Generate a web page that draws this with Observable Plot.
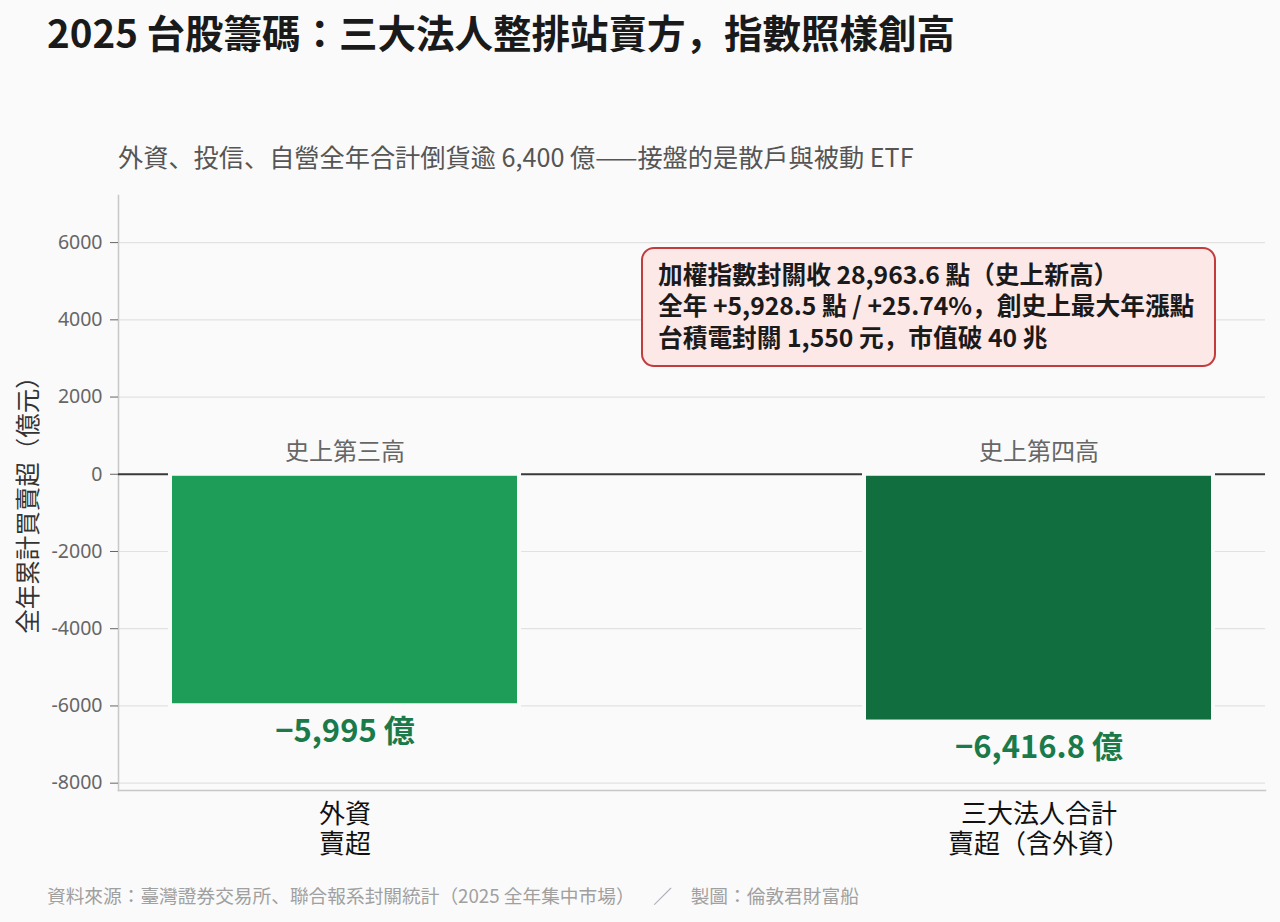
<!DOCTYPE html>
<html><head><meta charset="utf-8">
<script src="https://cdn.jsdelivr.net/npm/d3@7"></script>
<script src="https://cdn.jsdelivr.net/npm/@observablehq/plot@0.6"></script>
<style>
html,body{margin:0;padding:0;background:#fafafa;}
body{width:1280px;height:922px;position:relative;overflow:hidden;font-family:"Noto Sans CJK JP","Noto Sans",sans-serif;text-spacing-trim:space-all;font-kerning:none;font-feature-settings:"kern" 0,"chws" 0,"halt" 0,"palt" 0;}
svg, svg text{text-spacing-trim:space-all;font-kerning:none;font-feature-settings:"kern" 0,"chws" 0,"halt" 0,"palt" 0;}
#title{position:absolute;left:47px;top:12px;font-size:38.5px;line-height:38.5px;font-weight:700;color:#1a1a1a;white-space:nowrap;}
#subtitle{position:absolute;left:118px;top:144px;font-size:25.2px;line-height:25.2px;color:#555;white-space:nowrap;}
#chart{position:absolute;left:0;top:180px;}
#ylabel{position:absolute;left:27px;top:499px;transform:translate(-50%,-50%) rotate(-90deg);font-size:24.5px;line-height:24.5px;color:#333;white-space:nowrap;}
#note{position:absolute;left:641px;top:247px;width:575px;height:120px;box-sizing:border-box;border:2px solid #c23c3e;border-radius:13px;background:#fde8e8;padding:8.5px 0 0 15px;}
#note div{font-size:24.7px;line-height:31.5px;font-weight:700;color:#1a1a1a;white-space:nowrap;}
#footer{position:absolute;left:47px;top:886px;font-size:18.7px;line-height:18.7px;color:#a0a0a0;white-space:nowrap;}
</style></head>
<body>
<div id="title"></div>
<div id="subtitle"></div>
<div id="chart"></div>
<div id="ylabel"></div>
<div id="note"></div>
<div id="footer"></div>
<script>
const titleText = "2025 台股籌碼：三大法人整排站賣方，指數照樣創高";
const subtitleText = "外資、投信、自營全年合計倒貨逾 6,400 億——接盤的是散戶與被動 ETF";
const footerText = "資料來源：臺灣證券交易所、聯合報系封關統計（2025 全年集中市場）　／　製圖：倫敦君財富船";
const yLabel = "全年累計買賣超（億元）";

const categories = ["外資\n賣超", "三大法人合計\n賣超（含外資）"];
const values = [-5995, -6416.8];
const valueLabels = ["−5,995 億", "−6,416.8 億"];
const rankLabels = ["史上第三高", "史上第四高"];
const barColors = ["#1e9d58", "#106e3f"];
const yTicks = [-8000, -6000, -4000, -2000, 0, 2000, 4000, 6000];
const yDomain = [-8190, 7220];
const noteLines = [
  "加權指數封關收 28,963.6 點（史上新高）",
  "全年 +5,928.5 點 / +25.74%，創史上最大年漲點",
  "台積電封關 1,550 元，市值破 40 兆"
];

document.getElementById("title").textContent = titleText;
document.getElementById("subtitle").textContent = subtitleText;
document.getElementById("footer").textContent = footerText;
document.getElementById("ylabel").textContent = yLabel;
const note = document.getElementById("note");
noteLines.forEach(t => { const d = document.createElement("div"); d.textContent = t; note.appendChild(d); });

const data = categories.map((c, i) => ({cat: c, value: values[i], label: valueLabels[i], rank: rankLabels[i]}));
const bg = "#fafafa";
const fontCJK = "'Noto Sans CJK JP','Noto Sans',sans-serif";

const chart = Plot.plot({
  width: 1280,
  height: 700,
  marginLeft: 118,
  marginRight: 15,
  marginTop: 15,
  marginBottom: 90,
  style: {background: "transparent", fontFamily: fontCJK, overflow: "visible"},
  x: {domain: categories, paddingInner: 0.4975, paddingOuter: 0.075},
  y: {domain: yDomain},
  color: {domain: categories, range: barColors},
  marks: [
    Plot.gridY({ticks: yTicks, stroke: "#e2e2e2", strokeOpacity: 1, strokeWidth: 1.2}),
    Plot.frame({anchor: "left", stroke: "#c8c8c8", strokeWidth: 1.5}),
    Plot.frame({anchor: "bottom", stroke: "#c8c8c8", strokeWidth: 1.5}),
    Plot.ruleY([0], {stroke: "#3a3a3a", strokeWidth: 2}),
    Plot.barY(data, {x: "cat", y: "value", fill: "cat", stroke: bg, strokeWidth: 4}),
    Plot.text(data, {x: "cat", y: 0, text: "rank", dy: -22, fontSize: 24, fill: "#666", lineAnchor: "middle"}),
    Plot.text(data, {x: "cat", y: "value", text: "label", dy: 26, fontSize: 31, fontWeight: 700, fill: "#1a7a4a", lineAnchor: "middle"}),
    Plot.axisY({ticks: yTicks, tickSize: 8, tickPadding: 8, fontSize: 19.5, fontFamily: "'Noto Sans',sans-serif", color: "#666", tickFormat: d => String(d), label: null}),
    Plot.axisX({tickSize: 0, tickPadding: 11, fontSize: 26, color: "#111", lineHeight: 1.16, label: null})
  ]
});
document.getElementById("chart").appendChild(chart);
</script>
</body></html>
